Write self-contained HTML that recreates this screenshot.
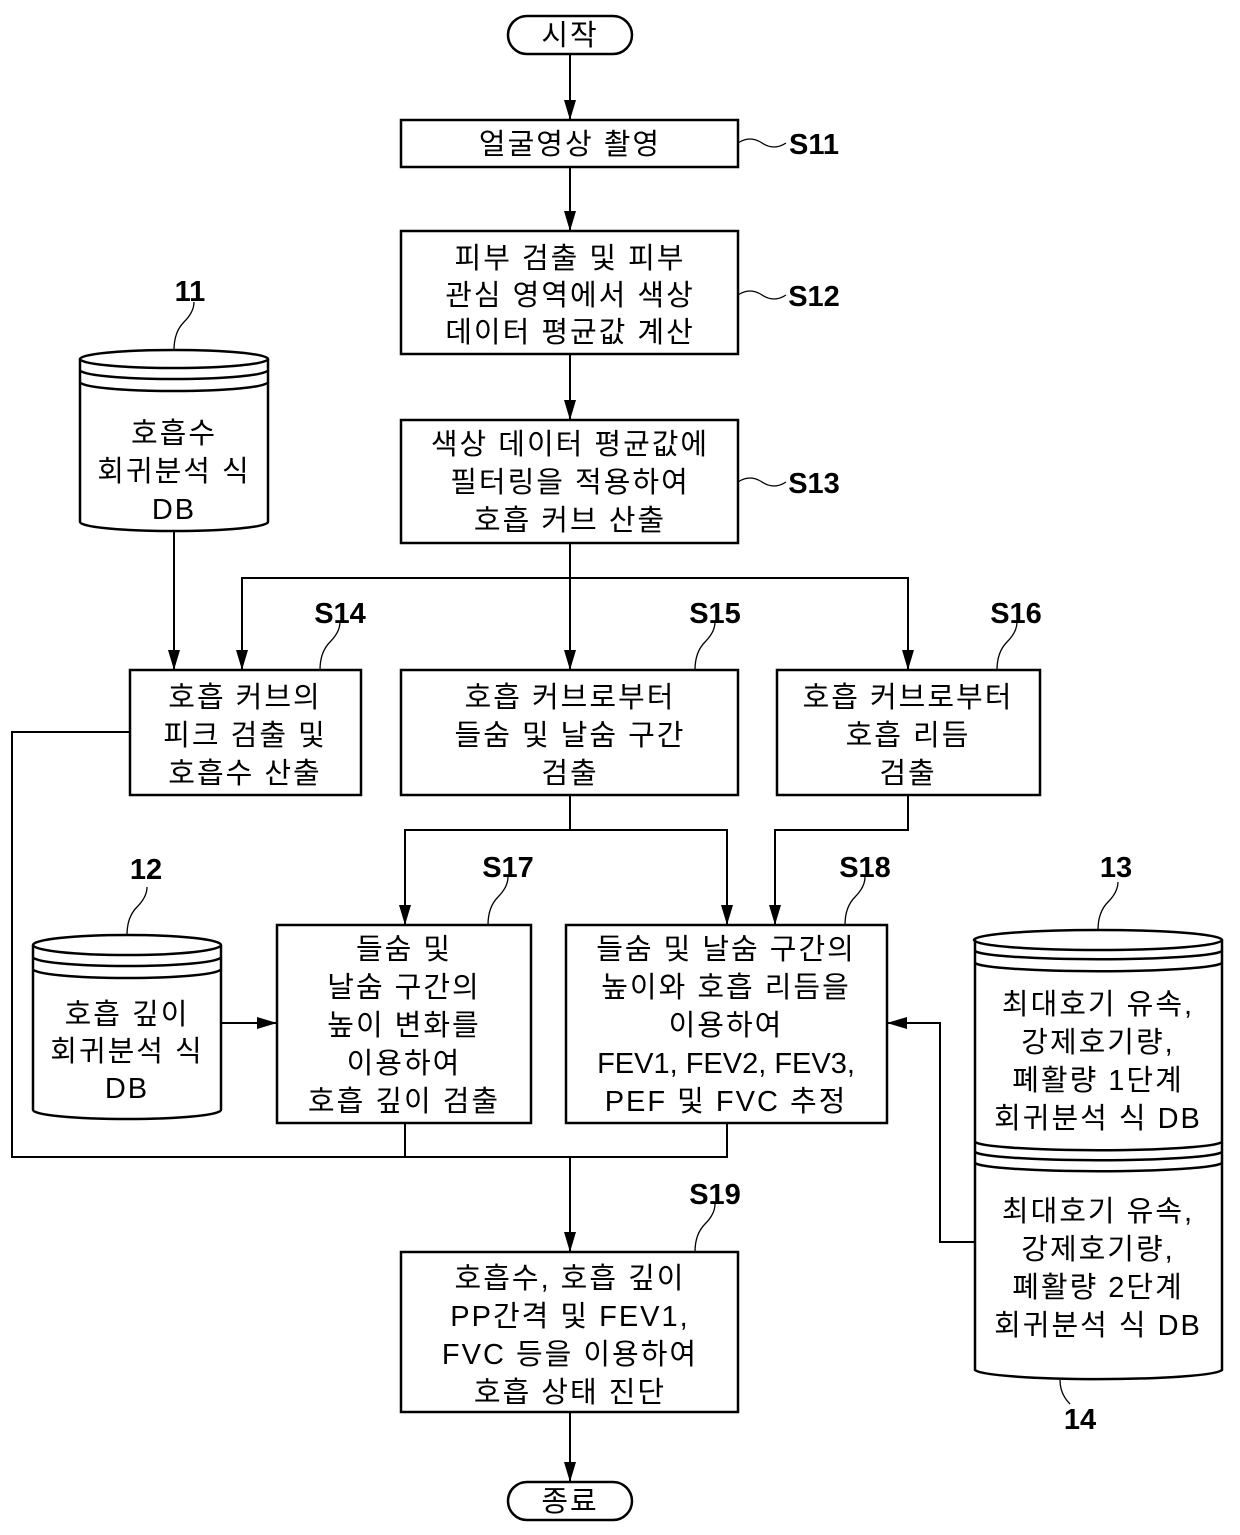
<!DOCTYPE html>
<html><head><meta charset="utf-8"><style>
html,body{margin:0;padding:0;background:#fff}
svg{display:block}
text{font-family:"Liberation Sans","Noto Sans CJK KR",sans-serif;font-size:29px;fill:#000;text-anchor:middle;letter-spacing:2px}
.l{font-size:29px;letter-spacing:0;font-weight:bold}
</style></head><body>
<svg width="1240" height="1535" viewBox="0 0 1240 1535" xmlns="http://www.w3.org/2000/svg">
<defs><marker id="a" markerWidth="20" markerHeight="12" refX="20" refY="6" orient="auto-start-reverse" markerUnits="userSpaceOnUse" viewBox="0 0 20 12"><path d="M0,0 L20,6 L0,12 Z" fill="#000"/></marker></defs>
<g fill="none" stroke="#000" stroke-width="2">
<line x1="570" y1="54" x2="570" y2="120" marker-end="url(#a)"/>
<line x1="570" y1="167" x2="570" y2="231" marker-end="url(#a)"/>
<line x1="570" y1="354" x2="570" y2="420" marker-end="url(#a)"/>
<line x1="570" y1="543" x2="570" y2="670" marker-end="url(#a)"/>
<polyline points="242,670 242,578 908,578 908,670" marker-start="url(#a)" marker-end="url(#a)"/>
<line x1="174" y1="530" x2="174" y2="670" marker-end="url(#a)"/>
<polyline points="570,795 570,830"/>
<polyline points="405,925 405,830 727,830 727,925" marker-start="url(#a)" marker-end="url(#a)"/>
<polyline points="908,795 908,830 775,830 775,925" marker-end="url(#a)"/>
<line x1="221" y1="1023" x2="277" y2="1023" marker-end="url(#a)"/>
<polyline points="975,1242 940,1242 940,1023 887,1023" marker-end="url(#a)"/>
<polyline points="130,732 12,732 12,1157 727,1157 727,1123"/>
<line x1="405" y1="1123" x2="405" y2="1157"/>
<line x1="570" y1="1157" x2="570" y2="1252" marker-end="url(#a)"/>
<line x1="570" y1="1412" x2="570" y2="1482" marker-end="url(#a)"/>
<g stroke-width="2.5">
<rect x="508" y="16" width="124" height="38" rx="19"/>
<rect x="508" y="1482" width="124" height="38" rx="19"/>
<rect x="401" y="120" width="337" height="47"/>
<rect x="401" y="231" width="337" height="123"/>
<rect x="401" y="420" width="337" height="123"/>
<rect x="130" y="670" width="231" height="125"/>
<rect x="401" y="670" width="337" height="125"/>
<rect x="777" y="670" width="263" height="125"/>
<rect x="277" y="925" width="254" height="198"/>
<rect x="566" y="925" width="321" height="198"/>
<rect x="401" y="1252" width="337" height="160"/>
<path d="M80,359 L80,522 A94,9 0 0 0 268,522 L268,359"/>
<ellipse cx="174" cy="359" rx="94" ry="9"/>
<path d="M80,370 A94,9 0 0 0 268,370 M80,382 A94,9 0 0 0 268,382"/>
<path d="M33,945 L33,1110 A94,9 0 0 0 221,1110 L221,945"/>
<ellipse cx="127" cy="945" rx="94" ry="10"/>
<path d="M33,957 A94,9 0 0 0 221,957 M33,969 A94,9 0 0 0 221,969"/>
<path d="M975,940 L975,1370 A124,10 0 0 0 1222,1370 L1222,940"/>
<ellipse cx="1098" cy="940" rx="124" ry="10"/>
<path d="M975,951 A124,9 0 0 0 1222,951 M975,963 A124,9 0 0 0 1222,963"/>
<path d="M975,1142 A124,9 0 0 0 1222,1142 M975,1152 A124,9 0 0 0 1222,1152 M975,1163 A124,9 0 0 0 1222,1163"/>
</g>
<g stroke-width="1.3">
<path d="M738,143 q12,-8 24,0 t24,0"/>
<path d="M738,295 q12,-8 24,0 t24,0"/>
<path d="M738,482 q12,-8 24,0 t24,0"/>
<path d="M320,670 q0,-18 10,-28 t10,-20"/>
<path d="M695,670 q0,-18 10,-28 t10,-20"/>
<path d="M997,670 q0,-18 10,-28 t10,-20"/>
<path d="M488,925 q0,-18 10,-28 t10,-20"/>
<path d="M845,925 q0,-18 10,-28 t10,-20"/>
<path d="M695,1252 q0,-18 10,-28 t10,-20"/>
<path d="M174,350 q0,-18 10,-28 t10,-20"/>
<path d="M127,935 q0,-18 10,-28 t10,-20"/>
<path d="M1098,930 q0,-18 10,-28 t10,-20"/>
<path d="M1060,1380 q0,14 10,24"/>
</g>
</g>
<text x="570" y="45">시작</text>
<text x="570" y="1511">종료</text>
<text x="570" y="154">얼굴영상 촬영</text>
<text x="570" y="268">피부 검출 및 피부</text>
<text x="570" y="305">관심 영역에서 색상</text>
<text x="570" y="342">데이터 평균값 계산</text>
<text x="570" y="454">색상 데이터 평균값에</text>
<text x="570" y="492">필터링을 적용하여</text>
<text x="570" y="530">호흡 커브 산출</text>
<text x="174" y="443">호흡수</text>
<text x="174" y="481">회귀분석 식</text>
<text x="174" y="519">DB</text>
<text x="245" y="707">호흡 커브의</text>
<text x="245" y="745">피크 검출 및</text>
<text x="245" y="783">호흡수 산출</text>
<text x="570" y="707">호흡 커브로부터</text>
<text x="570" y="745">들숨 및 날숨 구간</text>
<text x="570" y="783">검출</text>
<text x="908" y="707">호흡 커브로부터</text>
<text x="908" y="745">호흡 리듬</text>
<text x="908" y="783">검출</text>
<text x="127" y="1024">호흡 깊이</text>
<text x="127" y="1061">회귀분석 식</text>
<text x="127" y="1098">DB</text>
<text x="404" y="959">들숨 및</text>
<text x="404" y="997">날숨 구간의</text>
<text x="404" y="1035">높이 변화를</text>
<text x="404" y="1073">이용하여</text>
<text x="404" y="1111">호흡 깊이 검출</text>
<text x="726" y="959">들숨 및 날숨 구간의</text>
<text x="726" y="997">높이와 호흡 리듬을</text>
<text x="726" y="1035">이용하여</text>
<text x="726" y="1073" style="letter-spacing:0">FEV1, FEV2, FEV3,</text>
<text x="726" y="1111">PEF 및 FVC 추정</text>
<text x="1098" y="1014">최대호기 유속,</text>
<text x="1098" y="1052">강제호기량,</text>
<text x="1098" y="1090">폐활량 1단계</text>
<text x="1098" y="1128">회귀분석 식 DB</text>
<text x="1098" y="1221">최대호기 유속,</text>
<text x="1098" y="1259">강제호기량,</text>
<text x="1098" y="1297">폐활량 2단계</text>
<text x="1098" y="1335">회귀분석 식 DB</text>
<text x="570" y="1288">호흡수, 호흡 깊이</text>
<text x="570" y="1326">PP간격 및 FEV1,</text>
<text x="570" y="1364">FVC 등을 이용하여</text>
<text x="570" y="1402">호흡 상태 진단</text>
<text class="l" x="814" y="154">S11</text>
<text class="l" x="814" y="306">S12</text>
<text class="l" x="814" y="493">S13</text>
<text class="l" x="340" y="623">S14</text>
<text class="l" x="715" y="623">S15</text>
<text class="l" x="1016" y="623">S16</text>
<text class="l" x="508" y="877">S17</text>
<text class="l" x="865" y="877">S18</text>
<text class="l" x="715" y="1204">S19</text>
<text class="l" x="190" y="301">11</text>
<text class="l" x="146" y="879">12</text>
<text class="l" x="1116" y="877">13</text>
<text class="l" x="1080" y="1429">14</text>
</svg>
</body></html>
